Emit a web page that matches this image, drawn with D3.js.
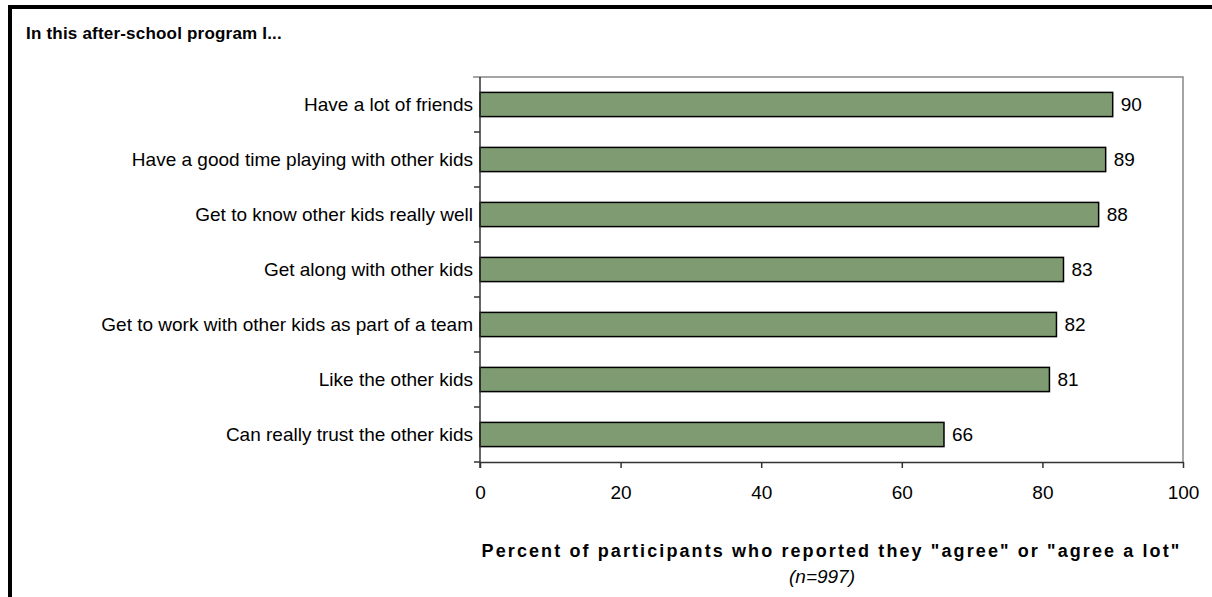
<!DOCTYPE html>
<html>
<head>
<meta charset="utf-8">
<script src="https://cdn.jsdelivr.net/npm/d3@7"></script>
<style>
  body { margin: 0; background: #fff; }
  svg { display: block; font-family: "Liberation Sans", Arial, sans-serif; }
</style>
</head>
<body>
<div id="chart"></div>
<script>
var categories = [
  "Have a lot of friends",
  "Have a good time playing with other kids",
  "Get to know other kids really well",
  "Get along with other kids",
  "Get to work with other kids as part of a team",
  "Like the other kids",
  "Can really trust the other kids"
];
var values = [90, 89, 88, 83, 82, 81, 66];
var xTicks = [0, 20, 40, 60, 80, 100];

var W = 1212, H = 597;
var barColor = "#7f9b71";
var plotLeft = 480, plotRight = 1183, plotTop = 77, plotBottom = 462;

var svg = d3.select("#chart").append("svg")
  .attr("width", W).attr("height", H);

// outer frame (only top + left visible)
svg.append("rect")
  .attr("x", 10).attr("y", 7)
  .attr("width", W + 20).attr("height", H + 20)
  .attr("fill", "none").attr("stroke", "#000").attr("stroke-width", 4);

svg.append("text")
  .attr("x", 26).attr("y", 39)
  .attr("font-size", 17).attr("font-weight", "bold")
  .attr("letter-spacing", 0.2)
  .text("In this after-school program I...");

var x = d3.scaleLinear().domain([0, 100]).range([plotLeft, plotRight]);
var y = d3.scaleBand().domain(categories).range([plotTop, plotBottom])
  .paddingInner(0.56).paddingOuter(0.28);

// plot border top + right
svg.append("path")
  .attr("d", "M" + (plotLeft - 7) + "," + plotTop + "H" + plotRight + "V" + plotBottom)
  .attr("fill", "none").attr("stroke", "#888").attr("stroke-width", 1.5);

// bars
svg.append("g").selectAll("rect")
  .data(values)
  .enter().append("rect")
  .attr("x", x(0))
  .attr("y", function(d, i) { return y(categories[i]); })
  .attr("width", function(d) { return x(d) - x(0); })
  .attr("height", y.bandwidth())
  .attr("fill", barColor)
  .attr("stroke", "#000")
  .attr("stroke-width", 1.5);

// value labels
svg.append("g").selectAll("text")
  .data(values)
  .enter().append("text")
  .attr("x", function(d) { return x(d) + 8; })
  .attr("y", function(d, i) { return y(categories[i]) + y.bandwidth() / 2; })
  .attr("dy", "0.35em")
  .attr("font-size", 19)
  .text(function(d) { return d; });

// y axis
var step = y.step();
var yAxis = svg.append("g");
yAxis.append("line")
  .attr("x1", plotLeft).attr("x2", plotLeft).attr("y1", plotTop).attr("y2", plotBottom + 6)
  .attr("stroke", "#333").attr("stroke-width", 1.5);
yAxis.selectAll("line.tick")
  .data(d3.range(1, categories.length + 1))
  .enter().append("line").attr("class", "tick")
  .attr("x1", plotLeft - 6).attr("x2", plotLeft)
  .attr("y1", function(i) { return plotTop + i * step; })
  .attr("y2", function(i) { return plotTop + i * step; })
  .attr("stroke", "#333").attr("stroke-width", 1.5);
yAxis.selectAll("text")
  .data(categories)
  .enter().append("text")
  .attr("x", plotLeft - 7)
  .attr("y", function(d) { return y(d) + y.bandwidth() / 2; })
  .attr("dy", "0.35em")
  .attr("text-anchor", "end")
  .attr("font-size", 19)
  .text(function(d) { return d; });

// x axis
var xAxis = svg.append("g")
  .attr("transform", "translate(0," + plotBottom + ")")
  .call(d3.axisBottom(x).tickValues(xTicks).tickSize(6).tickSizeOuter(0).tickPadding(18));
xAxis.select(".domain").attr("stroke", "#333").attr("stroke-width", 1.5);
xAxis.selectAll(".tick line").attr("stroke", "#333").attr("stroke-width", 1.5);
xAxis.selectAll(".tick text")
  .attr("font-family", "Liberation Sans, Arial, sans-serif")
  .attr("font-size", 19).attr("fill", "#000");

var cx = (plotLeft + plotRight) / 2;
svg.append("text")
  .attr("x", cx).attr("y", 557)
  .attr("text-anchor", "middle")
  .attr("font-size", 18).attr("font-weight", "bold")
  .attr("letter-spacing", 2.1)
  .text("Percent of participants who reported they \"agree\" or \"agree a lot\"");
svg.append("text")
  .attr("x", 822).attr("y", 583)
  .attr("text-anchor", "middle")
  .attr("font-size", 19).attr("font-style", "italic")
  .text("(n=997)");
</script>
</body>
</html>
